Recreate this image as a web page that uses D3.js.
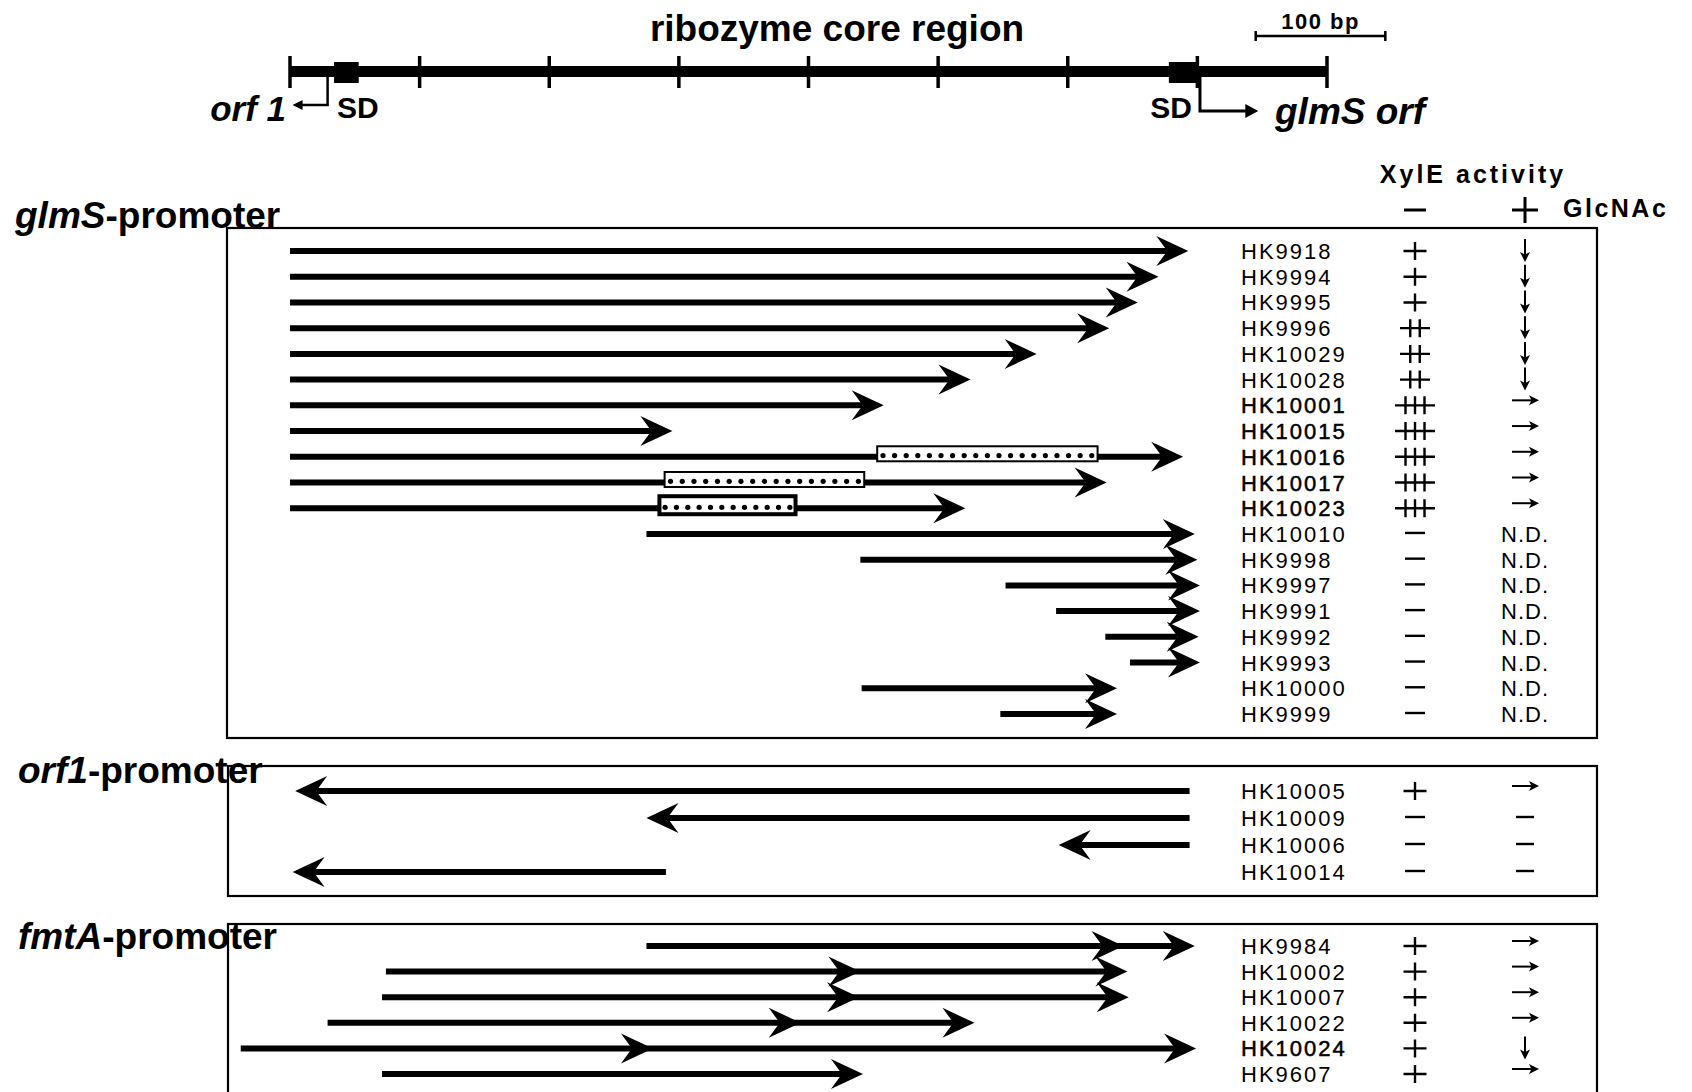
<!DOCTYPE html>
<html>
<head>
<meta charset="utf-8">
<script src="https://cdn.jsdelivr.net/npm/d3@7"></script>
<style>
body { margin: 0; background: #fff; }
svg { display: block; font-family: "Liberation Sans", Arial, Helvetica, sans-serif; }
</style>
</head>
<body>
<svg id="fig" width="1692" height="1092"></svg>
<script>
// region map (bp)
var mapTicks = [0, 100, 200, 300, 400, 500, 600, 700, 800];
var sdBoxes = [[34, 53], [678, 699]];
var orf1Start = 29, orf1Tip = 2;
var glmsStart = 702, glmsTip = 747;

// glmS-promoter constructs
var glmsNames = ['HK9918', 'HK9994', 'HK9995', 'HK9996', 'HK10029', 'HK10028', 'HK10001', 'HK10015',
    'HK10016', 'HK10017', 'HK10023', 'HK10010', 'HK9998', 'HK9997', 'HK9991', 'HK9992', 'HK9993',
    'HK10000', 'HK9999'];
var glmsFrom = [0, 0, 0, 0, 0, 0, 0, 0, 0, 0, 0, 275, 440, 552, 591, 629, 648, 441, 548];
var glmsTo = [693, 670, 654, 632, 576, 525, 458, 295, 689, 630, 521, 698, 700, 702, 702, 701, 702, 638, 638];
var glmsAct = ['+', '+', '+', '++', '++', '++', '+++', '+++', '+++', '+++', '+++', '-', '-', '-', '-', '-', '-', '-', '-'];
var glmsGlc = ['down', 'down', 'down', 'down', 'down', 'down', 'right', 'right', 'right', 'right', 'right',
    'ND', 'ND', 'ND', 'ND', 'ND', 'ND', 'ND', 'ND'];
var glmsInserts = {HK10016: [453, 623], HK10017: [289, 443], HK10023: [285, 390]};

// orf1-promoter constructs
var orf1Names = ['HK10005', 'HK10009', 'HK10006', 'HK10014'];
var orf1From = [694, 694, 694, 290];
var orf1To = [4, 275, 593, 2];
var orf1Act = ['+', '-', '-', '-'];
var orf1Glc = ['right', '-', '-', '-'];

// fmtA-promoter constructs (arrow heads along each line)
var fmtaNames = ['HK9984', 'HK10002', 'HK10007', 'HK10022', 'HK10024', 'HK9607'];
var fmtaFrom = [275, 74, 71, 29, -38, 71];
var fmtaHeads = [[643, 698], [440, 646], [439, 647], [394, 528], [280, 699], [442]];
var fmtaAct = ['+', '+', '+', '+', '+', '+'];
var fmtaGlc = ['right', 'right', 'right', 'right', 'down', 'right'];

var heavyNames = ['HK10001', 'HK10015', 'HK10016', 'HK10017', 'HK10023', 'HK10024'];

var svg = d3.select('#fig');
var x = d3.scaleLinear().domain([0, 800]).range([290, 1327]);

var nameX = 1241, actX = 1415, glcX = 1525;
var headL = 32, headW = 15, headN = 21;
var rowFont = 22;

// ---- region map ----
var map = svg.append('g');
map.append('rect')
    .attr('x', x(0)).attr('y', 66)
    .attr('width', x(800) - x(0)).attr('height', 11);
map.selectAll('.tick').data(mapTicks).enter().append('line')
    .attr('x1', function (d) { return x(d); })
    .attr('x2', function (d) { return x(d); })
    .attr('y1', 56).attr('y2', 88)
    .attr('stroke', '#000').attr('stroke-width', 3.5);
map.selectAll('.sd').data(sdBoxes).enter().append('rect')
    .attr('x', function (d) { return x(d[0]); })
    .attr('width', function (d) { return x(d[1]) - x(d[0]); })
    .attr('y', 62).attr('height', 21);

// orf1 start
map.append('path')
    .attr('d', 'M' + x(orf1Start) + ',76V105H' + (x(orf1Tip) + 9))
    .attr('fill', 'none').attr('stroke', '#000').attr('stroke-width', 2.5);
map.append('path')
    .attr('d', 'M' + x(orf1Tip) + ',105l10,-5v10z');
// glmS start
map.append('path')
    .attr('d', 'M' + x(glmsStart) + ',76V111H' + (x(glmsTip) - 11))
    .attr('fill', 'none').attr('stroke', '#000').attr('stroke-width', 3);
map.append('path')
    .attr('d', 'M' + x(glmsTip) + ',111l-13,-7v14z');

map.append('text').attr('x', 837).attr('y', 41).attr('text-anchor', 'middle')
    .attr('font-size', 37).attr('font-weight', 'bold').text('ribozyme core region');
map.append('text').attr('x', 286).attr('y', 121).attr('text-anchor', 'end')
    .attr('font-size', 35).attr('font-weight', 'bold').attr('font-style', 'italic').text('orf 1');
map.append('text').attr('x', 337).attr('y', 118)
    .attr('font-size', 30).attr('font-weight', 'bold').text('SD');
map.append('text').attr('x', 1192).attr('y', 118).attr('text-anchor', 'end')
    .attr('font-size', 30).attr('font-weight', 'bold').text('SD');
map.append('text').attr('x', 1275).attr('y', 124)
    .attr('font-size', 37).attr('font-weight', 'bold').attr('font-style', 'italic').text('glmS orf');

// 100 bp scale bar
map.append('path')
    .attr('d', 'M' + x(745) + ',31v10M' + x(745) + ',36H' + x(845) + 'M' + x(845) + ',31v10')
    .attr('fill', 'none').attr('stroke', '#000').attr('stroke-width', 2.5);
map.append('text').attr('x', (x(745) + x(845)) / 2).attr('y', 29).attr('text-anchor', 'middle')
    .attr('font-size', 22).attr('font-weight', 'bold').attr('letter-spacing', 1.5).text('100 bp');

// ---- column headers ----
svg.append('text').attr('x', 1473).attr('y', 183).attr('text-anchor', 'middle')
    .attr('font-size', 25).attr('font-weight', 'bold').attr('letter-spacing', 3).text('XylE activity');
svg.append('text').attr('x', 1563).attr('y', 217)
    .attr('font-size', 25).attr('font-weight', 'bold').attr('letter-spacing', 2.5).text('GlcNAc');
svg.append('path')
    .attr('d', 'M' + (actX - 11) + ',210h22M' + (glcX - 13) + ',210h26M' + glcX + ',197v26')
    .attr('stroke', '#000').attr('stroke-width', 3);

// ---- panels ----
function arrow(g, from, tips, y) {
    var last = tips[tips.length - 1],
        dir = last > from ? 1 : -1;
    g.append('line')
        .attr('x1', x(from)).attr('x2', x(last) - dir * headN)
        .attr('y1', y).attr('y2', y)
        .attr('stroke', '#000').attr('stroke-width', 6);
    tips.forEach(function (t) {
        var xt = x(t);
        g.append('path').attr('d', 'M' + xt + ',' + y +
            'L' + (xt - dir * headL) + ',' + (y - headW) +
            'L' + (xt - dir * headN) + ',' + y +
            'L' + (xt - dir * headL) + ',' + (y + headW) + 'Z');
    });
}

function insertBox(g, span, y, thick) {
    var x0 = x(span[0]), x1 = x(span[1]), h = thick ? 18 : 15, top = y - 3 - h / 2;
    g.append('rect').attr('x', x0).attr('y', top).attr('width', x1 - x0).attr('height', h)
        .attr('fill', '#fff').attr('stroke', '#000').attr('stroke-width', thick ? 4 : 2);
    var n = Math.round((x1 - x0) / 11.6);
    d3.range(n).forEach(function (i) {
        g.append('circle')
            .attr('cx', x0 + (i + 0.5) * (x1 - x0) / n)
            .attr('cy', top + h * 0.62).attr('r', 2.6);
    });
}

function activity(g, a, y) {
    var p = '';
    if (a == '-') {
        p = 'M' + (actX - 10) + ',' + (y - 1) + 'h20';
    } else {
        var n = a.length, w = [0, 23, 30, 40][n];
        p = 'M' + (actX - w / 2) + ',' + y + 'h' + w;
        for (var i = 0; i < n; i++) {
            var vx = actX + (i - (n - 1) / 2) * 9.5;
            p += 'M' + vx + ',' + (y - 9) + 'v18';
        }
    }
    g.append('path').attr('d', p).attr('fill', 'none').attr('stroke', '#000').attr('stroke-width', 2.4);
}

function glcSymbol(g, s, y) {
    if (s == 'ND') {
        g.append('text').attr('x', glcX).attr('y', y + 8).attr('text-anchor', 'middle')
            .attr('font-size', rowFont).attr('letter-spacing', 1).text('N.D.');
    } else if (s == '-') {
        g.append('path').attr('d', 'M' + (glcX - 9) + ',' + (y - 1) + 'h18')
            .attr('stroke', '#000').attr('stroke-width', 2.4);
    } else if (s == 'down') {
        g.append('path').attr('d', 'M' + glcX + ',' + (y - 12) + 'v17')
            .attr('stroke', '#000').attr('stroke-width', 2);
        g.append('path').attr('d', 'M' + glcX + ',' + (y + 11) + 'l-5,-10l5,2.5l5,-2.5z');
    } else {
        var ay = y - 5;
        g.append('path').attr('d', 'M' + (glcX - 13) + ',' + ay + 'h20')
            .attr('stroke', '#000').attr('stroke-width', 2);
        g.append('path').attr('d', 'M' + (glcX + 14) + ',' + ay + 'l-10,-5l2.5,5l-2.5,5z');
    }
}

function panel(opt) {
    var g = svg.append('g');
    g.append('rect')
        .attr('x', opt.box[0]).attr('y', opt.box[1])
        .attr('width', opt.box[2] - opt.box[0]).attr('height', opt.box[3] - opt.box[1])
        .attr('fill', 'none').attr('stroke', '#000').attr('stroke-width', 2.2);

    var label = g.append('text').attr('x', opt.labelPos[0]).attr('y', opt.labelPos[1])
        .attr('font-size', 37).attr('font-weight', 'bold');
    label.append('tspan').attr('font-style', 'italic').text(opt.gene);
    label.append('tspan').text('-promoter');

    var y = d3.scalePoint().domain(opt.names).range(opt.rows);

    opt.names.forEach(function (name, i) {
        var yy = y(name);
        arrow(g, opt.from[i], opt.tips[i], yy);
        if (opt.inserts && opt.inserts[name]) {
            insertBox(g, opt.inserts[name], yy, name == 'HK10023');
        }
        var heavy = heavyNames.indexOf(name) >= 0;
        g.append('text').attr('x', nameX).attr('y', yy + 8)
            .attr('font-size', rowFont).attr('letter-spacing', 2)
            .attr('stroke', heavy ? '#000' : 'none').attr('stroke-width', 0.5)
            .text(name);
        activity(g, opt.act[i], yy);
        glcSymbol(g, opt.glc[i], yy);
    });
}

panel({
    gene: 'glmS', names: glmsNames, from: glmsFrom,
    tips: glmsTo.map(function (d) { return [d]; }),
    act: glmsAct, glc: glmsGlc, inserts: glmsInserts,
    box: [227, 228, 1597, 738], labelPos: [15, 228], rows: [251, 714]
});
panel({
    gene: 'orf1', names: orf1Names, from: orf1From,
    tips: orf1To.map(function (d) { return [d]; }),
    act: orf1Act, glc: orf1Glc,
    box: [228, 766, 1597, 896], labelPos: [18, 783], rows: [791, 872]
});
panel({
    gene: 'fmtA', names: fmtaNames, from: fmtaFrom, tips: fmtaHeads,
    act: fmtaAct, glc: fmtaGlc,
    box: [228, 924, 1597, 1120], labelPos: [18, 949], rows: [946, 1074]
});
</script>
</body>
</html>
